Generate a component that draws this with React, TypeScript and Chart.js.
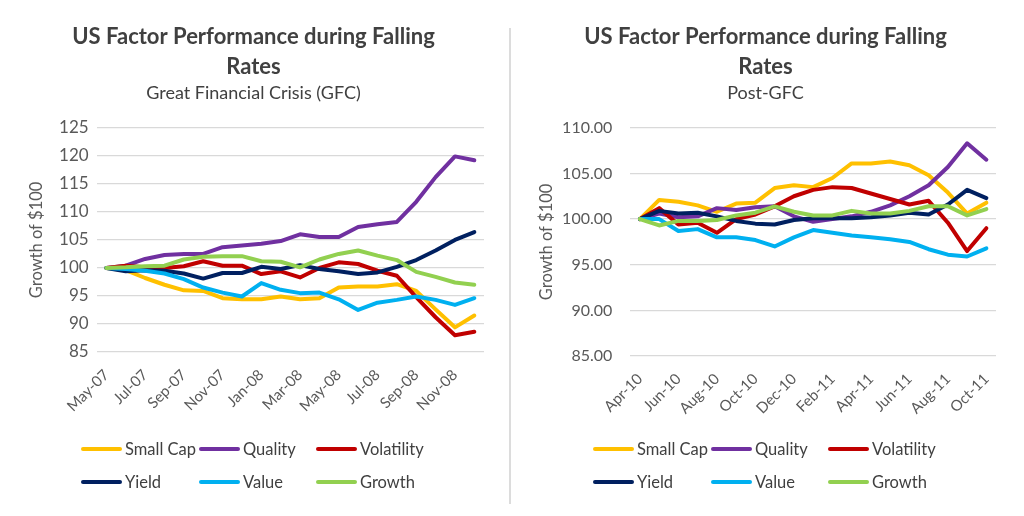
import React, { useEffect, useRef } from 'react';
import { Chart, registerables } from 'chart.js';
Chart.register(...registerables);

const FONT = 'Lato, "Open Sans", sans-serif';

const seriesNames = ['Small Cap', 'Quality', 'Volatility', 'Yield', 'Value', 'Growth'];
const seriesColors = ['#FFC000', '#7030A0', '#C00000', '#002060', '#00B0F0', '#92D050'];

// Left panel: Great Financial Crisis (GFC)
const gfcMonths = ['May-07', 'Jun-07', 'Jul-07', 'Aug-07', 'Sep-07', 'Oct-07', 'Nov-07', 'Dec-07', 'Jan-08', 'Feb-08',
  'Mar-08', 'Apr-08', 'May-08', 'Jun-08', 'Jul-08', 'Aug-08', 'Sep-08', 'Oct-08', 'Nov-08', 'Dec-08'];
const gfcSmallCap = [100, 99.6, 98.2, 97.0, 96.0, 95.9, 94.6, 94.4, 94.4, 94.9, 94.4, 94.6, 96.5, 96.7, 96.7, 97.1, 95.9, 92.6, 89.4, 91.5];
const gfcQuality = [100, 100.4, 101.6, 102.3, 102.5, 102.5, 103.7, 104.0, 104.3, 104.8, 106.0, 105.5, 105.5, 107.3, 107.8, 108.2, 111.8, 116.2, 119.9, 119.2];
const gfcVolatility = [100, 100.4, 100.1, 100.0, 100.3, 101.2, 100.4, 100.4, 98.9, 99.4, 98.3, 100.0, 101.0, 100.7, 99.5, 98.6, 94.8, 91.2, 88.0, 88.6];
const gfcYield = [100, 99.4, 99.6, 99.5, 99.0, 98.1, 99.1, 99.1, 100.2, 99.8, 100.5, 99.8, 99.4, 98.9, 99.2, 100.2, 101.4, 103.1, 105.0, 106.4];
const gfcValue = [100, 99.8, 99.5, 99.0, 98.0, 96.5, 95.6, 94.9, 97.3, 96.1, 95.5, 95.6, 94.4, 92.5, 93.8, 94.3, 94.9, 94.3, 93.4, 94.6];
const gfcGrowth = [100, 100.1, 100.3, 100.4, 101.5, 102.0, 102.1, 102.1, 101.2, 101.1, 100.1, 101.5, 102.5, 103.1, 102.2, 101.4, 99.3, 98.4, 97.4, 97.0];

// Right panel: Post-GFC
const postMonths = ['Apr-10', 'May-10', 'Jun-10', 'Jul-10', 'Aug-10', 'Sep-10', 'Oct-10', 'Nov-10', 'Dec-10', 'Jan-11',
  'Feb-11', 'Mar-11', 'Apr-11', 'May-11', 'Jun-11', 'Jul-11', 'Aug-11', 'Sep-11', 'Oct-11'];
const postSmallCap = [100, 102.1, 101.9, 101.5, 100.8, 101.7, 101.8, 103.4, 103.7, 103.5, 104.5, 106.1, 106.1, 106.3, 105.9, 104.8, 102.9, 100.6, 101.8];
const postQuality = [100, 100.6, 100.2, 100.3, 101.2, 101.0, 101.3, 101.4, 100.3, 99.7, 100.0, 100.3, 100.8, 101.5, 102.5, 103.7, 105.7, 108.3, 106.5];
const postVolatility = [100, 101.2, 99.4, 99.6, 98.5, 100.0, 100.5, 101.4, 102.5, 103.2, 103.5, 103.4, 102.8, 102.2, 101.6, 102.0, 99.6, 96.5, 99.0];
const postYield = [100, 100.9, 100.6, 100.7, 100.3, 99.8, 99.5, 99.4, 99.9, 100.1, 100.1, 100.1, 100.2, 100.4, 100.7, 100.5, 101.6, 103.2, 102.3];
const postValue = [100, 100.0, 98.7, 98.9, 98.0, 98.0, 97.7, 97.0, 98.0, 98.8, 98.5, 98.2, 98.0, 97.8, 97.5, 96.7, 96.1, 95.9, 96.8];
const postGrowth = [100, 99.3, 99.8, 99.8, 99.9, 100.4, 100.7, 101.4, 100.8, 100.4, 100.4, 100.9, 100.6, 100.6, 100.9, 101.4, 101.4, 100.4, 101.1];

const titleLines = ['US Factor Performance during Falling', 'Rates'];
const yAxisTitle = 'Growth of $100';

const gridLegend = {
  id: 'gridLegend',
  afterDraw(chart: any, _args: any, opts: any) {
    const ctx = chart.ctx;
    ctx.save();
    chart.data.datasets.forEach((ds: any, i: number) => {
      const x = opts.cols[i % 3];
      const y = opts.rows[Math.floor(i / 3)];
      ctx.strokeStyle = ds.borderColor;
      ctx.lineWidth = 4;
      ctx.lineCap = 'round';
      ctx.beginPath();
      ctx.moveTo(x + 2, y);
      ctx.lineTo(x + 39, y);
      ctx.stroke();
      ctx.fillStyle = '#404040';
      ctx.font = `16.5px ${FONT}`;
      ctx.textBaseline = 'middle';
      ctx.textAlign = 'left';
      ctx.fillText(ds.label, x + 44, y + 1);
    });
    ctx.restore();
  },
};

type PanelProps = {
  labels: string[];
  series: number[][];
  subtitle: string;
  yMin: number;
  yMax: number;
  decimals: number;
  yWidth: number;
  yTickPad: number;
  yTitlePad: number;
  tickSize: number;
  padBottom: number;
};

function Panel(p: PanelProps) {
  const ref = useRef<HTMLCanvasElement>(null);
  useEffect(() => {
    if (!ref.current) return;
    const n = seriesNames.length;
    const chart = new Chart(ref.current, {
      type: 'line',
      data: {
        labels: p.labels,
        datasets: seriesNames.map((name, i) => ({
          label: name,
          data: p.series[i],
          borderColor: seriesColors[i],
          backgroundColor: seriesColors[i],
          borderWidth: 4,
          pointRadius: 0,
          tension: 0,
          borderJoinStyle: 'round' as const,
          borderCapStyle: 'round' as const,
          order: n - i,
        })),
      },
      plugins: [gridLegend],
      options: {
        responsive: false,
        animation: false,
        layout: { padding: { left: 23, right: 28, top: 0, bottom: p.padBottom } },
        plugins: {
          legend: { display: false },
          tooltip: { enabled: false },
          title: {
            display: true,
            text: titleLines,
            color: '#404040',
            font: { family: FONT, size: 22, weight: 'bold', lineHeight: 30 / 22 },
            padding: { top: 22, bottom: 0 },
          },
          subtitle: {
            display: true,
            text: p.subtitle,
            color: '#404040',
            font: { family: FONT, size: 18, lineHeight: 1.1 },
            padding: { top: 1, bottom: 25 },
          },
          gridLegend: { cols: [81, 199, 316], rows: [449, 482] },
        } as any,
        scales: {
          x: {
            offset: true,
            grid: { display: false, drawTicks: false },
            border: { display: false },
            ticks: {
              autoSkip: false,
              minRotation: 45,
              maxRotation: 45,
              padding: 14,
              color: '#595959',
              font: { family: FONT, size: 15 },
              callback: (_v: any, i: number) => (i % 2 === 0 ? p.labels[i] : ''),
            },
            afterFit: (s: any) => { s.height = 70; },
          },
          y: {
            min: p.yMin,
            max: p.yMax,
            grid: { color: '#d9d9d9', lineWidth: 1.2, drawTicks: false },
            border: { display: false },
            ticks: {
              stepSize: 5,
              padding: p.yTickPad,
              color: '#595959',
              font: { family: FONT, size: p.tickSize },
              callback: (v: any) => Number(v).toFixed(p.decimals),
            },
            title: {
              display: true,
              text: yAxisTitle,
              color: '#595959',
              font: { family: FONT, size: 16.5, lineHeight: 1.2 },
              padding: { top: p.yTitlePad, bottom: 0 },
            },
            afterFit: (s: any) => { s.width = p.yWidth; },
          },
        },
      },
    });
    return () => chart.destroy();
  }, []);
  return <canvas ref={ref} width={512} height={516} style={{ width: 512, height: 516, display: 'block' }} />;
}

export default function App() {
  return (
    <div style={{ position: 'fixed', left: 0, top: 0, width: 1024, height: 516, background: '#ffffff', overflow: 'hidden' }}>
      <div style={{ position: 'absolute', left: 0, top: 0 }}>
        <Panel
          labels={gfcMonths}
          series={[gfcSmallCap, gfcQuality, gfcVolatility, gfcYield, gfcValue, gfcGrowth]}
          subtitle="Great Financial Crisis (GFC)"
          yMin={85}
          yMax={125}
          decimals={0}
          yWidth={73.7}
          yTickPad={8}
          yTitlePad={4}
          tickSize={17}
          padBottom={94}
        />
      </div>
      <div style={{ position: 'absolute', left: 509, top: 28, width: 1.5, height: 476, background: '#dcdcdc' }} />
      <div style={{ position: 'absolute', left: 512, top: 0 }}>
        <Panel
          labels={postMonths}
          series={[postSmallCap, postQuality, postVolatility, postYield, postValue, postGrowth]}
          subtitle="Post-GFC"
          yMin={85}
          yMax={110}
          decimals={2}
          yWidth={95.3}
          yTickPad={18}
          yTitlePad={2}
          tickSize={16}
          padBottom={90}
        />
      </div>
    </div>
  );
}
